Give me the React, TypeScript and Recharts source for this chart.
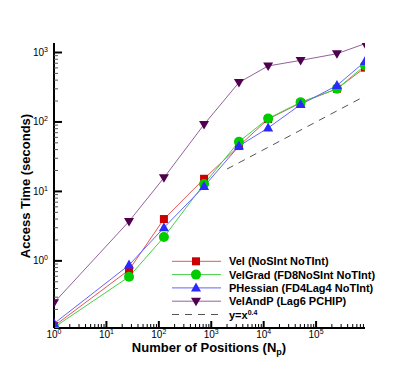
import React from "react";
import { LineChart, Line, XAxis, YAxis } from "recharts";

const positions = [1, 27, 125, 729, 3375, 12167, 50653, 250047, 857375];
const velTimes = [0.115, 0.74, 4.0, 15.2, 45, 110, 188, 300, 605];
const velGradTimes = [0.11, 0.59, 2.2, 12.8, 52, 112, 192, 300, 650];
const pHessianTimes = [0.125, 0.87, 3.0, 11.8, 45, 82, 178, 335, 740];
const velAndPTimes = [0.25, 3.7, 15.7, 92, 370, 640, 770, 960, 1340];

const refPositions = [2000, 857375];
const refTimes = [21, 236];

const xTicks = [
  1, 2, 3, 4, 5, 6, 7, 8, 9,
  10, 20, 30, 40, 50, 60, 70, 80, 90,
  100, 200, 300, 400, 500, 600, 700, 800, 900,
  1000, 2000, 3000, 4000, 5000, 6000, 7000, 8000, 9000,
  10000, 20000, 30000, 40000, 50000, 60000, 70000, 80000, 90000,
  100000, 200000, 300000, 400000, 500000, 600000, 700000, 800000,
];
const yTicks = [
  0.2, 0.3, 0.4, 0.5, 0.6, 0.7, 0.8, 0.9,
  1, 2, 3, 4, 5, 6, 7, 8, 9,
  10, 20, 30, 40, 50, 60, 70, 80, 90,
  100, 200, 300, 400, 500, 600, 700, 800, 900,
  1000,
];

const series = [
  { key: "vel", name: "Vel (NoSInt NoTInt)", line: "#e65555", fill: "#cc0000", marker: "square", values: velTimes },
  { key: "velGrad", name: "VelGrad (FD8NoSInt NoTInt)", line: "#44d044", fill: "#00cc00", marker: "circle", values: velGradTimes },
  { key: "pHessian", name: "PHessian (FD4Lag4 NoTInt)", line: "#6464ff", fill: "#2a2aff", marker: "triangle", values: pHessianTimes },
  { key: "velAndP", name: "VelAndP (Lag6 PCHIP)", line: "#94619a", fill: "#50004e", marker: "down", values: velAndPTimes },
];

const data = positions.map((x, i) => {
  const row: Record<string, number> = { x };
  series.forEach((s) => (row[s.key] = s.values[i]));
  return row;
});
const refData = refPositions.map((x, i) => ({ x, ref: refTimes[i] }));

const FONT = "'Liberation Sans', Arial, Helvetica, sans-serif";

function Marker({ kind, cx, cy, fill }: { kind: string; cx: number; cy: number; fill: string }) {
  if (kind === "square") return <rect x={cx - 4} y={cy - 4} width={8} height={8} fill={fill} />;
  if (kind === "circle") return <circle cx={cx} cy={cy} r={5} fill={fill} />;
  if (kind === "triangle")
    return <polygon points={`${cx},${cy - 5.5} ${cx + 5},${cy + 3.5} ${cx - 5},${cy + 3.5}`} fill={fill} />;
  return <polygon points={`${cx},${cy + 5} ${cx + 5},${cy - 3.5} ${cx - 5},${cy - 3.5}`} fill={fill} />;
}

function isMajor(v: number) {
  const l = Math.log10(v);
  return Math.abs(l - Math.round(l)) < 1e-6;
}

function XTick(props: any) {
  const { x, y, payload } = props;
  const v = payload.value;
  const major = isMajor(v);
  return (
    <g>
      <line x1={x} x2={x} y1={y} y2={y - (major ? 7 : 4)} stroke="#000" strokeWidth={major ? 2 : 1} />
      {major && (
        <text x={x} y={y + 10} textAnchor="middle" fontSize={10} fontFamily={FONT} fill="#000">
          10
          <tspan dy={-4} fontSize={7}>{Math.round(Math.log10(v))}</tspan>
        </text>
      )}
    </g>
  );
}

function YTick(props: any) {
  const { x, y, payload } = props;
  const v = payload.value;
  const major = isMajor(v);
  return (
    <g>
      <line x1={x} x2={x + (major ? 8 : 4)} y1={y} y2={y} stroke={major ? "#000" : "#555"} strokeWidth={major ? 2 : 1} />
      {major && (
        <text x={x - 6} y={y + 3.5} textAnchor="end" fontSize={10} fontFamily={FONT} fill="#000">
          10
          <tspan dy={-4} fontSize={7}>{Math.round(Math.log10(v))}</tspan>
        </text>
      )}
    </g>
  );
}

export default function App() {
  return (
    <div style={{ position: "absolute", left: 0, top: 0, width: 415, height: 369, background: "#fff" }}>
      <LineChart width={415} height={369} margin={{ top: 43, right: 50, bottom: 11, left: 4 }}>
        <XAxis
          dataKey="x"
          type="number"
          scale="log"
          domain={[1, 857375]}
          allowDataOverflow
          ticks={xTicks}
          interval={0}
          height={30}
          tickSize={0}
          tickMargin={0}
          tick={<XTick />}
          axisLine={{ stroke: "#000", strokeWidth: 2 }}
        />
        <YAxis
          type="number"
          scale="log"
          domain={[0.108, 1370]}
          allowDataOverflow
          ticks={yTicks}
          interval={0}
          width={50}
          tickSize={0}
          tickMargin={0}
          tick={<YTick />}
          axisLine={{ stroke: "#000", strokeWidth: 2 }}
        />
        <Line
          data={refData}
          dataKey="ref"
          stroke="#555"
          strokeWidth={1}
          strokeDasharray="7 6"
          dot={false}
          isAnimationActive={false}
        />
        {series.map((s) => (
          <Line
            key={s.key}
            data={data}
            dataKey={s.key}
            stroke={s.line}
            strokeWidth={1}
            isAnimationActive={false}
            dot={(p: any) => <Marker key={`${s.key}-${p.index}`} kind={s.marker} cx={p.cx} cy={p.cy} fill={s.fill} />}
          />
        ))}
      </LineChart>
      <svg width={415} height={369} style={{ position: "absolute", left: 0, top: 0, pointerEvents: "none" }}>
        <text
          transform="translate(30,186) rotate(-90)"
          textAnchor="middle"
          fontSize={13}
          fontWeight="bold"
          fontFamily={FONT}
          fill="#000"
        >
          Access Time (seconds)
        </text>
        <text x={209} y={352} textAnchor="middle" fontSize={13} fontWeight="bold" fontFamily={FONT} fill="#000">
          Number of Positions (N
          <tspan dy={3} fontSize={9}>p</tspan>
          <tspan dy={-3}>)</tspan>
        </text>
        {series.map((s, i) => {
          const cy = 261.3 + i * 13.3;
          return (
            <g key={s.key}>
              <line x1={172} x2={221} y1={cy} y2={cy} stroke={s.line} strokeWidth={1} />
              <Marker kind={s.marker} cx={196} cy={cy} fill={s.fill} />
              <text x={229} y={cy + 4} fontSize={11} fontWeight="bold" fontFamily={FONT} fill="#000">
                {s.name}
              </text>
            </g>
          );
        })}
        <line x1={172} x2={221} y1={314.5} y2={314.5} stroke="#555" strokeWidth={1} strokeDasharray="7 6" />
        <text x={229} y={318.5} fontSize={11} fontWeight="bold" fontFamily={FONT} fill="#000">
          y=x
          <tspan dy={-4} fontSize={7}>0.4</tspan>
        </text>
      </svg>
    </div>
  );
}
